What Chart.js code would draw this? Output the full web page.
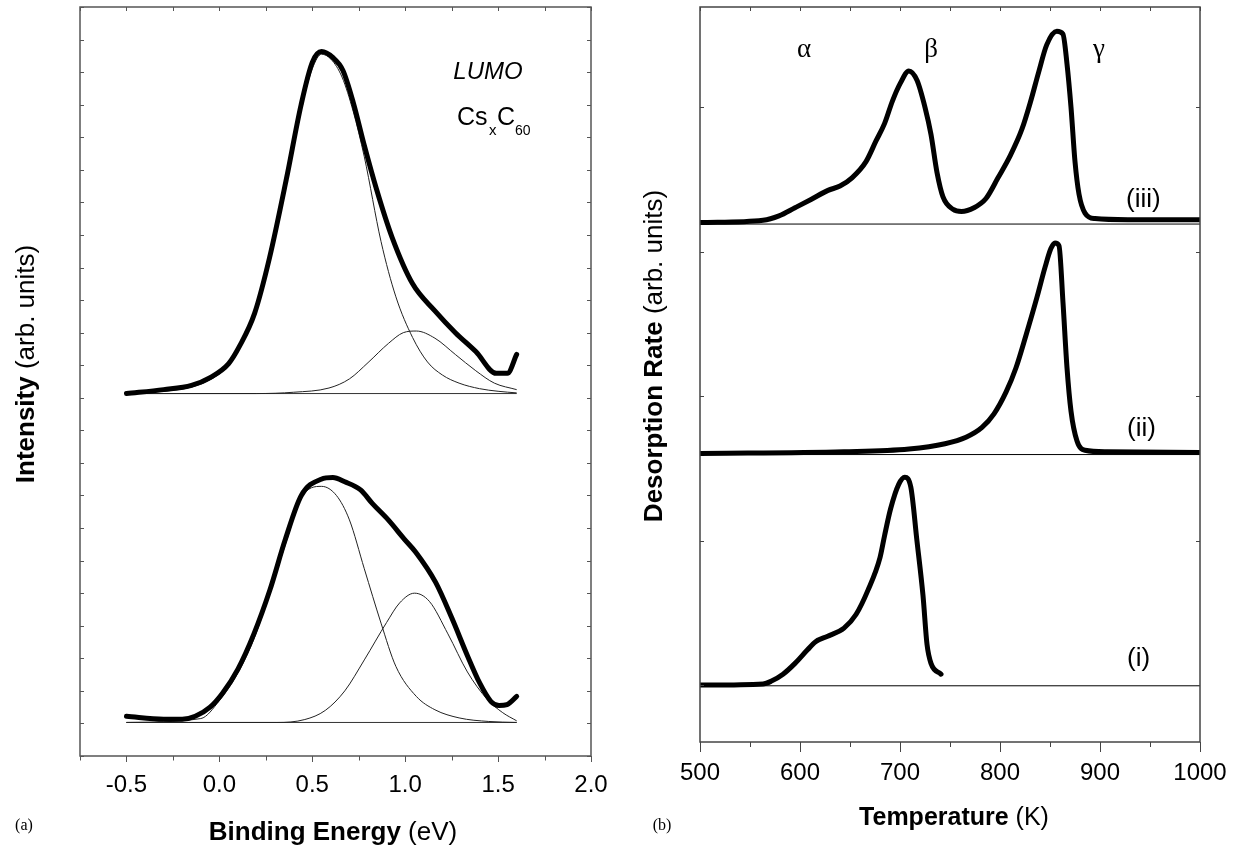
<!DOCTYPE html>
<html><head><meta charset="utf-8">
<script src="https://cdn.jsdelivr.net/npm/chart.js@4.4.0/dist/chart.umd.min.js"></script>
<style>
html,body{margin:0;padding:0;background:#fff;width:1237px;height:848px;overflow:hidden;}
#wa{position:absolute;left:0;top:0;width:620px;height:848px;}
#wb{position:absolute;left:620px;top:0;width:617px;height:848px;}
</style></head><body>
<div id="wa"><canvas id="ca"></canvas></div>
<div id="wb"><canvas id="cb"></canvas></div>
<script>
// ---------- Panel (a): LUMO photoemission ----------
const xTicksA = [-0.5, 0.0, 0.5, 1.0, 1.5, 2.0];
const xMinorA = [-0.75, -0.25, 0.25, 0.75, 1.25, 1.75];

const upperSumX = [-0.5,-0.3,-0.15,-0.05,0.05,0.11,0.19,0.27,0.36,0.44,0.5,0.55,0.61,0.665,0.72,0.78,0.845,0.93,1.04,1.16,1.27,1.38,1.49,1.55,1.6];
const upperSumY = [11.13,11.25,11.38,11.62,12.05,12.6,13.6,15.3,17.7,20.0,21.3,21.63,21.45,21.05,20.08,18.75,17.42,15.92,14.5,13.67,13.0,12.42,11.75,11.75,12.33];

const upperPk1X = [-0.5,-0.3,-0.15,-0.05,0.05,0.11,0.19,0.27,0.36,0.44,0.5,0.55,0.6,0.66,0.72,0.78,0.87,0.95,1.04,1.12,1.2,1.29,1.4,1.5,1.6];
const upperPk1Y = [11.13,11.2,11.33,11.55,12.0,12.55,13.55,15.2,17.55,19.85,21.1,21.55,21.4,20.85,19.8,18.4,15.8,14.1,12.85,12.1,11.7,11.45,11.28,11.2,11.15];

const upperPk2X = [-0.5,0.2,0.4,0.59,0.7,0.8,0.91,0.99,1.06,1.16,1.27,1.38,1.48,1.6];
const upperPk2Y = [11.13,11.13,11.17,11.3,11.58,12.08,12.67,13.0,13.05,12.83,12.33,11.83,11.45,11.25];

const lowerSumX = [-0.5,-0.3,-0.2,-0.13,-0.05,0.016,0.1,0.186,0.271,0.356,0.441,0.548,0.611,0.675,0.76,0.824,0.909,0.994,1.058,1.164,1.25,1.335,1.4,1.462,1.505,1.548,1.6];
const lowerSumY = [1.22,1.13,1.13,1.22,1.5,1.92,2.67,3.75,5.08,6.67,8.0,8.5,8.55,8.42,8.17,7.75,7.25,6.67,6.25,5.33,4.25,3.08,2.25,1.67,1.55,1.58,1.83];

const lowerPk1X = [-0.5,-0.1,0.0,0.1,0.19,0.27,0.36,0.44,0.55,0.63,0.7,0.78,0.87,0.95,1.06,1.16,1.29,1.45,1.6];
const lowerPk1Y = [1.03,1.15,1.7,2.55,3.65,5.0,6.58,7.92,8.28,8.0,7.25,5.75,4.08,2.75,1.83,1.42,1.17,1.06,1.03];

const lowerPk2X = [-0.5,0.31,0.46,0.57,0.675,0.78,0.9,0.97,1.05,1.13,1.23,1.335,1.44,1.525,1.6];
const lowerPk2Y = [1.03,1.03,1.12,1.4,2.0,2.95,4.1,4.7,5.0,4.75,3.75,2.58,1.75,1.33,1.08];

const baseAX = [-0.5, 1.6];
const upperBaseY = [11.13, 11.13];
const lowerBaseY = [1.03, 1.03];

// ---------- Panel (b): thermal desorption ----------
const xTicksB = [500, 600, 700, 800, 900, 1000];
const xMinorB = [550, 650, 750, 850, 950];
const yTicksB = [0, 1, 2, 3, 4];

const c3T = [500,563,579,595,611,628,640,652,666,676,684.5,692.5,700.5,708.8,717,725,731,737,743,753,761.5,774,786,798,810,822,830.5,838.6,846.7,856.8,862.9,867,871,875,879,885,895,928,1000];
const c3R = [3.2,3.217,3.247,3.303,3.36,3.423,3.453,3.51,3.622,3.765,3.885,4.043,4.167,4.25,4.185,3.998,3.81,3.547,3.378,3.292,3.277,3.303,3.367,3.51,3.66,3.848,4.036,4.24,4.43,4.524,4.505,4.298,3.998,3.622,3.397,3.266,3.228,3.22,3.22];

const c2T = [500,644,709,745,766,782,794,806,816,826,837,845,851,855,859,863,867,871,877,885,907,1000];
const c2R = [1.603,1.614,1.633,1.67,1.715,1.783,1.877,2.027,2.196,2.421,2.684,2.89,3.022,3.059,3.04,2.646,2.196,1.896,1.689,1.625,1.614,1.61];

const c1T = [500,563,571,583,595,607.5,615.6,627.7,644,656,668,680,684.5,690.6,698.7,704.8,710.8,717,723,727,731,741];
const c1R = [0,0.008,0.026,0.075,0.15,0.244,0.3,0.338,0.394,0.488,0.657,0.882,1.032,1.22,1.389,1.438,1.37,0.995,0.619,0.282,0.15,0.075];

const baseBX = [500, 1000];
const base3 = [3.19, 3.19];
const base2 = [1.595, 1.595];
const base1 = [-0.005, -0.005];

// ---------- helpers ----------
const SANS = '"Liberation Sans", Arial, Helvetica, sans-serif';
const SERIF = '"Liberation Serif", "Times New Roman", serif';
const pts = (xs, ys) => xs.map((x, i) => ({x: x, y: ys[i]}));
const thick = (xs, ys) => ({data: pts(xs, ys), borderColor: '#000', borderWidth: 5, pointRadius: 0,
  cubicInterpolationMode: 'monotone', borderCapStyle: 'round', borderJoinStyle: 'round', fill: false});
const thin = (xs, ys, c) => ({data: pts(xs, ys), borderColor: c || '#222', borderWidth: 1, pointRadius: 0,
  cubicInterpolationMode: 'monotone', fill: false});

function mixedTitle(ctx, b, n, cx, cy, size, rot) {
  ctx.save();
  ctx.translate(cx, cy);
  if (rot) ctx.rotate(-Math.PI / 2);
  const fb = 'bold ' + size + 'px ' + SANS, fn = size + 'px ' + SANS;
  ctx.font = fb; const wb = ctx.measureText(b).width;
  ctx.font = fn; const wn = ctx.measureText(n).width;
  const s = -(wb + wn) / 2;
  ctx.fillStyle = '#000'; ctx.textAlign = 'left'; ctx.textBaseline = rot ? 'middle' : 'alphabetic';
  ctx.font = fb; ctx.fillText(b, s, 0);
  ctx.font = fn; ctx.fillText(n, s + wb, 0);
  ctx.restore();
}
function txt(ctx, t, x, y, font, align, base) {
  ctx.save(); ctx.fillStyle = '#000'; ctx.font = font;
  ctx.textAlign = align || 'left'; ctx.textBaseline = base || 'alphabetic';
  ctx.fillText(t, x, y); ctx.restore();
}

const frameTicks = {
  id: 'frameTicks',
  afterDatasetsDraw(chart, args, o) {
    const ctx = chart.ctx, a = chart.chartArea, xs = chart.scales.x, ys = chart.scales.y;
    ctx.save();
    ctx.strokeStyle = o.color; ctx.lineWidth = o.frameWidth;
    ctx.strokeRect(a.left, a.top, a.right - a.left, a.bottom - a.top);
    ctx.lineWidth = 1;
    const ln = (x1, y1, x2, y2) => { ctx.beginPath(); ctx.moveTo(x1, y1); ctx.lineTo(x2, y2); ctx.stroke(); };
    ys.ticks.forEach(t => {
      const py = Math.round(ys.getPixelForValue(t.value)) + 0.5;
      ln(a.left, py, a.left + o.inLen, py);
      ln(a.right, py, a.right - o.inLen, py);
    });
    o.top.forEach(v => { const px = Math.round(xs.getPixelForValue(v)) + 0.5; ln(px, a.top, px, a.top + o.inLen); });
    o.minor.forEach(v => { const px = Math.round(xs.getPixelForValue(v)) + 0.5; ln(px, a.bottom, px, a.bottom + o.minorLen); });
    ctx.restore();
  }
};

// ---------- chart (a) ----------
new Chart(document.getElementById('ca'), {
  type: 'line',
  data: { datasets: [
    thick(upperSumX, upperSumY),
    thick(lowerSumX, lowerSumY),
    thin(upperPk1X, upperPk1Y),
    thin(upperPk2X, upperPk2Y),
    thin(lowerPk1X, lowerPk1Y),
    thin(lowerPk2X, lowerPk2Y),
    thin(baseAX, upperBaseY, '#333'),
    thin(baseAX, lowerBaseY, '#333')
  ]},
  options: {
    responsive: true, maintainAspectRatio: false, animation: false, devicePixelRatio: 1,
    layout: { padding: { left: 0, top: 7, right: 29, bottom: 0 } },
    plugins: { legend: { display: false }, tooltip: { enabled: false },
      frameTicks: { color: '#555', frameWidth: 1.5, inLen: 4, minorLen: 4.5, top: xTicksA.concat(xMinorA), minor: xMinorA },
      texts: {}
    },
    scales: {
      x: { type: 'linear', min: -0.75, max: 2.0,
        afterBuildTicks: s => { s.ticks = xTicksA.map(v => ({value: v})); },
        afterFit: s => { s.height = 92; },
        ticks: { callback: v => Number(v).toFixed(1), font: { family: SANS, size: 24 }, color: '#000', padding: 9, maxRotation: 0, autoSkip: false },
        grid: { drawOnChartArea: false, drawTicks: true, tickLength: 6, tickColor: '#555', lineWidth: 1 },
        border: { display: false } },
      y: { type: 'linear', min: 0, max: 23,
        ticks: { display: false, stepSize: 1 },
        afterFit: s => { s.width = 80; },
        grid: { display: false }, border: { display: false } }
    }
  },
  plugins: [frameTicks, {
    id: 'texts',
    afterDraw(chart) {
      const ctx = chart.ctx;
      mixedTitle(ctx, 'Intensity ', '(arb. units)', 27, 364, 26, true);
      mixedTitle(ctx, 'Binding Energy ', '(eV)', 333, 840, 26, false);
      txt(ctx, 'LUMO', 488, 79, 'italic 24px ' + SANS, 'center');
      txt(ctx, 'Cs', 457, 125, '25px ' + SANS);
      txt(ctx, 'x', 489, 135, '15px ' + SANS);
      txt(ctx, 'C', 497, 125, '25px ' + SANS);
      txt(ctx, '60', 515, 135, '14px ' + SANS);
      txt(ctx, '(a)', 24, 826, '16px ' + SERIF, 'center', 'middle');
    }
  }]
});

// ---------- chart (b) ----------
const OX = 620; // canvas (b) left offset on the page
new Chart(document.getElementById('cb'), {
  type: 'line',
  data: { datasets: [
    thick(c3T, c3R),
    thick(c2T, c2R),
    thick(c1T, c1R),
    thin(baseBX, base3, '#000'),
    thin(baseBX, base2, '#000'),
    thin(baseBX, base1, '#000')
  ]},
  options: {
    responsive: true, maintainAspectRatio: false, animation: false, devicePixelRatio: 1,
    layout: { padding: { left: 0, top: 7, right: 37, bottom: 0 } },
    plugins: { legend: { display: false }, tooltip: { enabled: false },
      frameTicks: { color: '#444', frameWidth: 1.5, inLen: 4, minorLen: 5, top: xTicksB.concat(xMinorB), minor: xMinorB },
      texts: {}
    },
    scales: {
      x: { type: 'linear', min: 500, max: 1000,
        afterBuildTicks: s => { s.ticks = xTicksB.map(v => ({value: v})); },
        afterFit: s => { s.height = 106; },
        ticks: { callback: v => String(v), font: { family: SANS, size: 24 }, color: '#000', padding: 7, maxRotation: 0, autoSkip: false },
        grid: { drawOnChartArea: false, drawTicks: true, tickLength: 10, tickColor: '#444', lineWidth: 1 },
        border: { display: false } },
      y: { type: 'linear', min: -0.394, max: 4.692,
        afterBuildTicks: s => { s.ticks = yTicksB.map(v => ({value: v})); },
        ticks: { display: false },
        afterFit: s => { s.width = 80; },
        grid: { display: false }, border: { display: false } }
    }
  },
  plugins: [frameTicks, {
    id: 'texts',
    afterDraw(chart) {
      const ctx = chart.ctx;
      mixedTitle(ctx, 'Desorption Rate ', '(arb. units)', 35, 356, 26, true);
      mixedTitle(ctx, 'Temperature ', '(K)', 334, 825, 25, false);
      txt(ctx, 'α', 804 - OX, 57, '27px ' + SERIF, 'center');
      txt(ctx, 'β', 931 - OX, 57, '27px ' + SERIF, 'center');
      txt(ctx, 'γ', 1099 - OX, 57, '27px ' + SERIF, 'center');
      txt(ctx, '(iii)', 1126 - OX, 200, '26px ' + SANS, 'left', 'middle');
      txt(ctx, '(ii)', 1127 - OX, 429, '26px ' + SANS, 'left', 'middle');
      txt(ctx, '(i)', 1127 - OX, 659, '26px ' + SANS, 'left', 'middle');
      txt(ctx, '(b)', 662 - OX, 826, '16px ' + SERIF, 'center', 'middle');
    }
  }]
});
</script>
</body></html>
